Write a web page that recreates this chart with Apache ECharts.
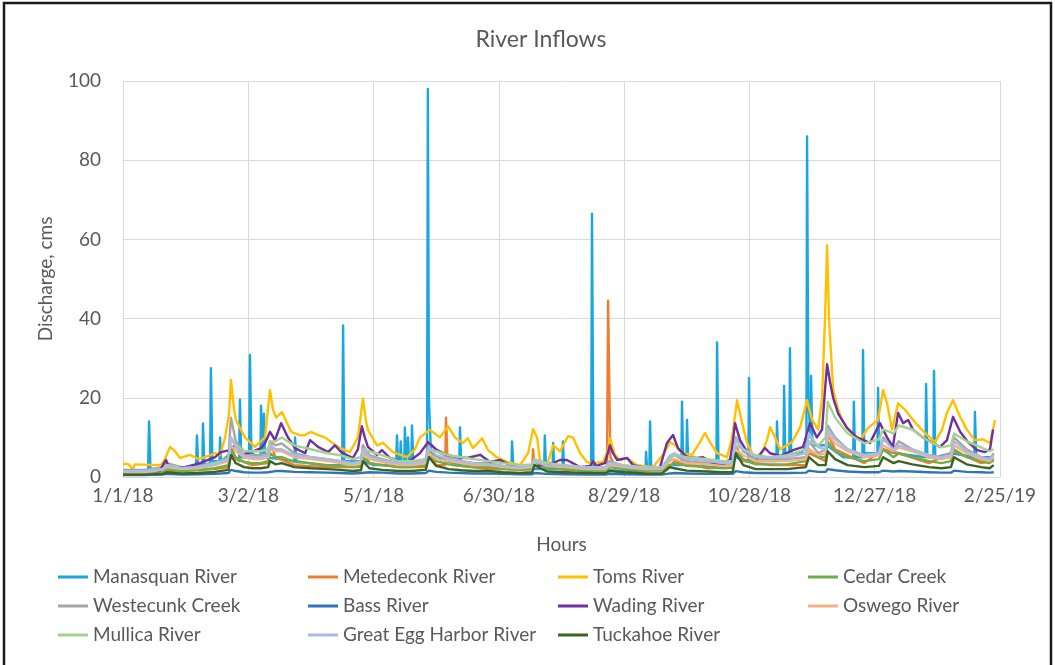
<!DOCTYPE html>
<html>
<head>
<meta charset="utf-8">
<title>River Inflows</title>
<script src="https://cdn.jsdelivr.net/npm/echarts@6/dist/echarts.min.js"></script>
<style>
  html, body { margin: 0; padding: 0; background: #ffffff; }
  #chart { width: 1055px; height: 665px; }
</style>
</head>
<body>
<div id="chart"></div>
<script>
// Days counted from 1/1/18; the x axis is labelled every 60 days.
const tickLabels = ['1/1/18', '3/2/18', '5/1/18', '6/30/18', '8/29/18', '10/28/18', '12/27/18', '2/25/19'];

const seriesNames = [
  'Manasquan River', 'Metedeconk River', 'Toms River', 'Cedar Creek',
  'Westecunk Creek', 'Bass River', 'Wading River', 'Oswego River',
  'Mullica River', 'Great Egg Harbor River', 'Tuckahoe River'
];

const seriesColors = [
  '#1aa7e0', '#ed7d31', '#ffc000', '#70ad47',
  '#a5a5a5', '#2e75b6', '#7030a0', '#f4b183',
  '#a9d18e', '#a9bce3', '#3b6323'
];

// [day, discharge] pairs for the flashier gauges
const manasquan = [
  [0,1.5],[12,1.5],[12.5,14],[13.2,1.5],[20,2.5],[35,2.5],[35.4,10.5],[36,3],[38,3],[38.3,13.5],[39,3],
  [41.7,3.5],[42.1,27.5],[42.8,4],[46.2,4],[46.5,10],[47,4],[51.7,6],[55.6,4],[56,19.5],[56.6,5],
  [60.4,5],[60.8,30.8],[61.5,6],[65.8,5],[66.1,18],[66.8,6],[67.3,6],[67.5,16],[68,5],[75,4.5],
  [82,4],[82.4,10],[83,4],[95,3],[105,3],[105.4,38.3],[106,4],[115,4],[120,3],
  [130.8,3],[131.2,10.5],[131.7,4],[132.7,4],[133,9],[133.4,4],[134.7,4],[135,12.5],[135.5,4],
  [136.2,4],[136.5,10],[137,4],[138.1,4],[138.4,13],[139,4],[145.6,4],[146,98],[146.5,20],[147.5,6],
  [155,4],[161,3],[161.4,12.5],[162,3],[175,2.5],[186,2],[186.3,9],[187,2],
  [201.7,2],[202,10.5],[202.6,2],[205.7,2],[206,8.6],[206.5,2],[210.4,2],[210.7,9],[211.2,2],
  [224.2,1.5],[224.6,66.5],[225.3,2],[240,1.5],[250.2,1.5],[250.5,6.3],[251,2],[252.1,2],[252.4,14],[253,2],
  [262,3],[267.4,3],[267.7,19],[268.3,4],[269.8,4],[270.1,14.4],[270.7,3],[284.2,2.5],[284.5,34],[285.2,3],
  [293,5],[299.5,4],[299.8,25],[300.4,4],[312.9,4],[313.2,14],[313.8,5],[316.3,5],[316.6,23],[317.2,5],
  [319.1,6],[319.4,32.5],[320,6],[325,6],[327.3,8],[327.6,86],[328.2,20],[329.2,10],[329.5,25.5],[330.2,8],
  [337,8],[345,5],[349.7,5],[350,19],[350.6,5],[354.1,5],[354.4,32],[355,6],[361.3,6],[361.6,22.5],[362.2,7],
  [370,6],[384.3,5],[384.6,23.5],[385.2,5],[388.1,5],[388.4,26.8],[389,5],[397,6],
  [407.7,5],[408,16.4],[408.6,5],[417,5]
];

const metedeconk = [
  [0,1.2],[20,1.5],[44,2],[50.5,2.5],[51.7,8],[54,4.5],[62,3],[69.5,3.5],[70.4,9],[73,5],[82,3],
  [98,2.5],[114,2.5],[114.9,8],[118,3.5],[132,2.5],[145,2.5],[146.5,6],[150,3],[154.3,3],[154.7,15],
  [155.3,6],[158,3],[175,2],[195.9,2],[196.4,7],[197,3],[212,1.8],[231.8,2],[232.3,44.5],[232.8,27],
  [233.4,5],[236,2.5],[250,1.5],[262,2.5],[264,4],[280,2.2],[292,2.5],[293.5,8],[297,4],[310,3],
  [327,3],[328.5,6],[336.5,4],[337.5,11],[341,7],[355,3.5],[364,7],[371.5,6],[386,3.5],[398,6.5],
  [411,3.5],[417,4]
];

const toms = [
  [0,3.3],[2.4,3.3],[4.8,2.0],[5.7,3.2],[18.2,3.0],[20.1,4.5],[22.5,7.6],[24.9,6.5],[27.3,4.8],
  [32.1,5.6],[35.9,4.6],[39.3,5.0],[44.1,6.0],[46.5,5.5],[48.9,10],[50.8,16],[51.7,24.5],[53.2,17],
  [54.1,14.4],[58.4,10],[63.2,7.6],[68,10],[70.4,22],[71.8,17],[73.3,15],[76.1,16.4],[80.5,11.4],
  [84.8,10.5],[87.2,10.6],[90,11.4],[93.4,10.6],[96.7,10],[103,7.6],[106.3,6.8],[108.7,6.3],
  [112.5,10],[114.9,19.8],[116.4,14],[117.3,11.9],[121.6,8],[124.5,8.6],[129.3,6.3],[136,5],
  [139.8,7],[142.2,10],[147,11.9],[151.8,10],[155.7,12.8],[159,10],[162.8,8.6],[165.2,9.8],
  [167.6,7.3],[172,9.8],[174.8,6.8],[179,5],[183.9,3.8],[190.1,3],[194,6],[196.4,12.1],[198.3,10],
  [199.7,4.3],[203.1,3],[206,8],[209.3,6.5],[213.1,10.3],[215.5,10],[218.9,6],[222.2,3.8],
  [225.1,3.5],[229.9,3.8],[232.3,7],[233.2,9.8],[235.6,5.6],[238,4.3],[241.4,4.8],[246.2,3],
  [253.8,2.5],[258.6,5.6],[262,8.8],[264.4,8],[267.7,6],[272.5,5.6],[276.3,8.8],[278.7,11.1],
  [281.1,8.8],[284.5,6],[289.3,5],[291.7,10],[294.1,19.4],[296.5,13.6],[298.9,8.6],[301.7,5.6],
  [305.1,5],[308.4,9.3],[309.9,12.6],[312.3,10],[314.7,7],[320.4,8.8],[324.3,12.6],[327.6,19.4],
  [330,14.4],[332.9,12],[334.8,20],[336.2,40],[337.2,58.5],[338.1,40],[340.1,22],[342.5,17],
  [344.4,14.4],[348.2,11.4],[353,9.3],[356.8,12.4],[361.6,14.4],[364,22],[365.9,18.6],[368.3,12],
  [371.2,18.6],[374.5,17],[378.4,14.4],[381.7,12.4],[385.1,10.6],[388.9,8.8],[392.2,11.9],
  [394.6,16.2],[397.5,19.4],[400.9,15.2],[404.2,11.9],[408,9.3],[411.9,9.5],[415.2,8.6],[417.6,14.4]
];

const wading = [
  [0,1.5],[17.7,1.5],[19.6,3.5],[20.6,4.3],[22,2.5],[29.7,2.5],[36.9,3.5],[44.1,5],[46.9,6.3],
  [51.2,6.8],[53.6,8],[57.5,5.6],[61.3,6.3],[66.1,7.3],[68,8.5],[70.4,11.4],[72.8,9.3],[75.7,13.6],
  [79,10],[82.4,7.3],[87.2,6],[89.6,9.3],[93.4,7.6],[98.2,6.3],[101.5,8],[104.4,6.3],[110.1,4.8],
  [112.5,7],[114.4,12.8],[115.8,10],[117.3,7.6],[121.6,5.6],[124,6.8],[127.9,4.8],[136,3.5],
  [142.2,6],[146.1,8.8],[150.4,6.8],[155.2,5.6],[160,5],[164.8,4.8],[171,5.6],[175.8,3.8],
  [180.6,4.3],[185.3,3],[194.9,2.5],[205.9,3.5],[209.3,4.3],[212.6,4.3],[218.9,2.5],[223.7,2.8],
  [225.1,4],[226.5,2.8],[230.8,3.5],[233.2,8],[234.7,6],[236.6,4.3],[241.4,4.8],[244.3,3],
  [251,2.3],[257.2,2.5],[260.5,8.6],[263.4,10.6],[265.8,7.3],[270.1,5],[274.9,4.8],[277.8,5],
  [282.6,3.5],[287.4,3],[290.7,4.3],[292.1,9],[293.1,13.6],[295.5,9.3],[298.9,6.3],[303.6,4.8],
  [307.5,7.3],[309.9,6],[314.7,5.3],[320.9,6.8],[325.7,7.6],[329,13.6],[332.3,10],[334.8,12],
  [336.2,22],[337.2,28.5],[338.6,24],[340.1,20],[342.5,16],[346.7,12.4],[351.5,10],[357.7,8.6],
  [362.5,13.6],[365.9,10],[368.7,7.6],[371.2,16.2],[373.6,13.6],[376,14.4],[378.4,11.9],[383.1,10],
  [387.9,8.6],[391.3,7.6],[394.6,9.3],[397.5,15.2],[400.9,11.4],[404.7,8.8],[409,6.8],[412.8,6.3],
  [415.2,7],[416.7,12]
];

// Shared sampling days for the steadier gauges
const bgDays = [
  0,10,19,21,28,36,44,50.5,51.7,54,
  58,62,66,69.5,70.4,73,76,82,90,98,
  104,110,114,114.9,118,124,132,138,145,146.5,
  150,156,162,168,175,182,190,196,197,203,
  212,222,231,233,240,250,258,262,264,270,
  280,287,292,293.5,297,303,310,318,327,328.5,
  333,336.5,337.5,341,347,355,362,364,369,371.5,
  378,386,392,396.5,398,404,411,415,417
];

const cedar = [
  1,1,1.3,2,1.5,1.7,2.2,3,7,5,
  3.8,3.5,3.5,4,6,5,5,3.8,3.5,3,
  2.8,2.5,2.8,5,3.5,3,2.5,2.5,3,6.5,
  4,3.2,2.8,2.5,2.5,2,1.8,2,4,2.2,
  2,1.6,1.6,2.5,2,1.6,1.6,3,3.5,2.8,
  2.5,2.2,2.3,7,4.5,3.2,3.2,3.2,4,7,
  5,5,9,6.5,5,4,4.5,7,5,6,
  5,4,3.5,4,7,5,4,3.5,4.5
];

const westecunk = [
  1.8,1.8,2.5,3.5,2.5,2.8,3.5,5,15,9,
  6.5,5.5,5.5,6,9,8,8.5,6,5,4.5,
  4,3.5,4,8,5.5,4.5,3.5,3.5,4.5,9,
  6.5,5,4,3.5,3.5,2.8,2.5,2.8,4.5,3,
  2.8,2.2,2.2,4,2.8,2.2,2.2,5,5.5,4,
  3.5,3,3.5,10,6.5,4.5,4.5,4.5,5,9,
  6,7,13,10,7,5.5,6,10,7,9,
  7,5.5,5,6,10,7,5,4.5,6
];

const bass = [
  0.5,0.5,0.6,0.8,0.6,0.7,0.8,1,1.8,1.5,
  1.2,1.1,1.1,1.2,1.6,1.5,1.5,1.3,1.2,1.1,
  1,0.9,1,1.5,1.2,1.1,0.9,0.9,1,1.6,
  1.3,1.1,1,0.9,0.9,0.8,0.7,0.7,1,0.8,
  0.7,0.6,0.6,0.8,0.7,0.6,0.6,0.9,1,0.9,
  0.8,0.8,0.8,1.5,1.2,1,1,1,1.1,1.6,
  1.3,1.3,2,1.7,1.4,1.2,1.2,1.6,1.4,1.5,
  1.4,1.2,1.1,1.1,1.6,1.3,1.2,1.1,1.2
];

const oswego = [
  1.2,1.2,1.8,2.5,2,2.2,3,4,8,6.5,
  5,4.5,4.5,5,7,6.5,6.5,5,4.5,4,
  3.5,3,3.5,6,4.5,3.8,3,3,3.5,6,
  4.5,4,3.5,3,3,2.5,2.2,2.5,4,2.8,
  2.5,2,2,3,2.5,2,2,4,4.5,3.5,
  3.2,2.8,3,7,5.5,4,4,4,4.5,7,
  5.5,6,11,8.5,6.5,5,5.5,8,6.5,7.5,
  6.5,5,4.5,5,8,6,4.5,4,5
];

const mullica = [
  1.5,1.5,2,3,2.2,2.5,3.5,4.5,10,8,
  6.5,6.5,6.5,7,9,9,10,8,7,6,
  5.5,4.5,5,7,6.5,5.5,4,4,4.5,7,
  6.5,5.5,5,4.5,4,3.5,3,3.2,4.5,3.5,
  3,2.5,2.5,3.5,3,2.5,2.5,4.5,5.5,5,
  4.5,4,4,8,7,5.5,5,5.5,7,9,
  8,10,19,15,11,8.5,9.5,12,11,13,
  12,9,7.5,8,11,9,7.5,6.5,7
];

const greatEgg = [
  1.5,1.5,2,3,2.3,2.5,3.2,4.5,10,7.5,
  5.5,5,5,5.5,8,7,7,5.5,5,4.5,
  4,3.5,4,7,5,4.2,3.5,3.5,4,7.5,
  5.5,4.5,4,3.5,3.2,2.8,2.5,2.8,4,3,
  2.8,2.3,2.3,3.5,2.8,2.3,2.3,5.5,6,4.5,
  4,3.5,3.5,9.5,7,5,5,5,6,11,
  7.5,7,12,9.5,7,5.5,6,9.5,7,8,
  7,5.5,5,5.5,9,6.5,5,4.5,5.5
];

const tuckahoe = [
  0.6,0.6,0.8,1.2,0.9,1,1.3,1.8,5.5,3.5,
  2.5,2.2,2.2,2.5,4,3.2,3.5,2.5,2.2,2,
  1.8,1.5,1.7,4,2.2,1.8,1.5,1.5,1.8,5,
  2.8,2,1.7,1.5,1.5,1.2,1,1.2,3,1.4,
  1.2,1,1,1.5,1.2,0.9,0.9,2.5,2.2,1.6,
  1.4,1.2,1.3,6,3,2,2,2,2.5,5,
  3,3,6.5,4.5,3,2.5,2.8,5,3.5,4,
  3.2,2.5,2.2,2.5,5,3.2,2.5,2.2,3
];

const onBgDays = vals => bgDays.map((d, i) => [d, vals[i]]);

const seriesData = [
  manasquan, metedeconk, toms, onBgDays(cedar),
  onBgDays(westecunk), onBgDays(bass), wading, onBgDays(oswego),
  onBgDays(mullica), onBgDays(greatEgg), onBgDays(tuckahoe)
];

const FONT = 'Lato, "Open Sans", sans-serif';
const TEXT = '#595959';
const GRID = '#d9d9d9';

// Legend laid out as four columns of up to three entries
const legendColumns = [
  [seriesNames[0], seriesNames[4], seriesNames[8]],
  [seriesNames[1], seriesNames[5], seriesNames[9]],
  [seriesNames[2], seriesNames[6], seriesNames[10]],
  [seriesNames[3], seriesNames[7]]
];
const legendLefts = [58, 308, 558, 808];

const chart = echarts.init(document.getElementById('chart'), null, { renderer: 'canvas' });

chart.setOption({
  animation: false,
  backgroundColor: '#ffffff',
  color: seriesColors,
  textStyle: { fontFamily: FONT },
  graphic: [
    {
      type: 'rect',
      shape: { x: 4, y: 3, width: 1047, height: 700 },
      style: { fill: 'none', stroke: '#1a1a1a', lineWidth: 2.5 },
      silent: true
    },
    {
      type: 'text',
      x: 541, y: 40,
      style: {
        text: 'River Inflows',
        fill: TEXT,
        font: '23px ' + FONT,
        align: 'center',
        verticalAlign: 'middle'
      },
      silent: true
    }
  ],
  grid: { left: 123, right: 55, top: 81, bottom: 188, containLabel: false },
  legend: legendColumns.map((col, i) => ({
    data: col,
    orient: 'vertical',
    left: legendLefts[i],
    top: 567,
    itemGap: 9,
    itemWidth: 30,
    itemHeight: 3,
    icon: 'rect',
    selectedMode: false,
    padding: 0,
    textStyle: { color: TEXT, fontSize: 19, lineHeight: 20, fontFamily: FONT }
  })),
  xAxis: {
    type: 'value',
    min: 0,
    max: 420,
    interval: 60,
    name: 'Hours',
    nameLocation: 'middle',
    nameGap: 58,
    nameTextStyle: { color: TEXT, fontSize: 19, fontFamily: FONT },
    axisLine: { show: true, lineStyle: { color: GRID, width: 1 } },
    axisTick: { show: false },
    axisLabel: {
      color: TEXT,
      fontSize: 19,
      fontFamily: FONT,
      margin: 9,
      formatter: v => tickLabels[Math.round(v / 60)] || ''
    },
    splitLine: { show: true, lineStyle: { color: GRID, width: 1 } }
  },
  yAxis: {
    type: 'value',
    min: 0,
    max: 100,
    interval: 20,
    name: 'Discharge, cms',
    nameLocation: 'middle',
    nameGap: 68,
    nameRotate: 90,
    nameTextStyle: { color: TEXT, fontSize: 19, fontFamily: FONT },
    axisLine: { show: false },
    axisTick: { show: false },
    axisLabel: { color: TEXT, fontSize: 19, fontFamily: FONT, margin: 22 },
    splitLine: { show: true, lineStyle: { color: GRID, width: 1 } }
  },
  series: seriesNames.map((name, i) => ({
    name: name,
    type: 'line',
    data: seriesData[i],
    showSymbol: false,
    symbol: 'none',
    smooth: false,
    lineStyle: { width: 2.4, color: seriesColors[i], join: 'round' },
    itemStyle: { color: seriesColors[i] },
    emphasis: { disabled: true },
    z: 2
  }))
});
</script>
</body>
</html>
